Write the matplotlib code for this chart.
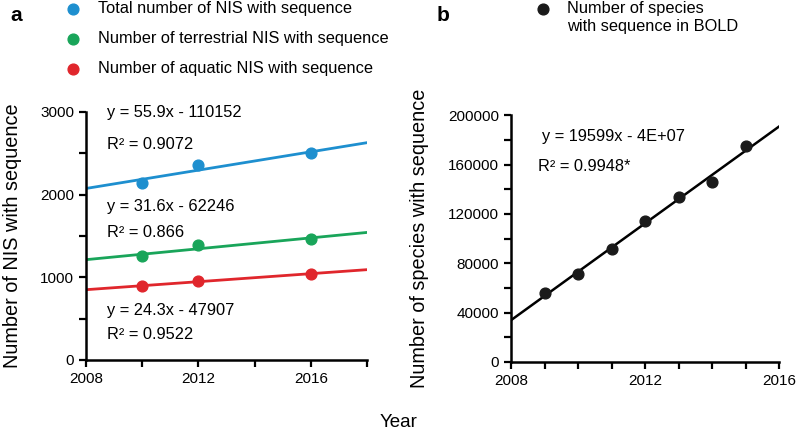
import numpy as np
import matplotlib
matplotlib.use('Agg')
import matplotlib.pyplot as plt

plt.rcParams['font.family'] = ['Liberation Sans', 'DejaVu Sans']

# panel a data
yearsA = [2010, 2012, 2016]
total = [2145, 2355, 2497]
terrestrial = [1252, 1385, 1463]
aquatic = [889, 961, 1039]
eqA = ['y = 55.9x - 110152', 'y = 31.6x - 62246', 'y = 24.3x - 47907']
r2A = ['R\u00b2 = 0.9072', 'R\u00b2 = 0.866', 'R\u00b2 = 0.9522']
labelsA = ['Total number of NIS with sequence',
           'Number of terrestrial NIS with sequence',
           'Number of aquatic NIS with sequence']

# panel b data
yearsB = [2009, 2010, 2011, 2012, 2013, 2014, 2015]
species = [55500, 70900, 91900, 114000, 133600, 145700, 174800]

colors = ['#1e8fcf', '#19a55a', '#e0262c']
fs = 11.8

fig = plt.figure(figsize=(7.96, 4.33), dpi=100)
ax1 = fig.add_axes([0.108, 0.1686, 0.353, 0.573])
ax2 = fig.add_axes([0.642, 0.164, 0.3367, 0.570])

def style(ax):
	for s in ['top', 'right']:
		ax.spines[s].set_visible(False)
	for s in ['left', 'bottom']:
		ax.spines[s].set_linewidth(1.8)
	ax.tick_params(which='both', direction='out', width=1.6, labelsize=11, length=5)

handles = []
xfit = np.array([2008, 2018])
for m, ys in enumerate([total, terrestrial, aquatic]):
	p = np.polyfit(yearsA, ys, 1)
	ax1.plot(xfit, np.polyval(p, xfit), color=colors[m], linewidth=2.0)
	h = ax1.scatter(yearsA, ys, s=60, color=colors[m], zorder=3, label=labelsA[m])
	handles.append(h)

eqY = [2994, 1855, 594]
r2Y = [2606, 1539, 303]
for m in range(3):
	ax1.text(2008.75, eqY[m], eqA[m], fontsize=fs, va='center')
	ax1.text(2008.75, r2Y[m], r2A[m], fontsize=fs, va='center')

ax1.set_xlim(2008, 2018)
ax1.set_ylim(0, 3000)
ax1.set_xticks([2008, 2012, 2016])
ax1.set_xticks([2010, 2014, 2018], minor=True)
ax1.set_yticks([0, 1000, 2000, 3000])
ax1.set_yticks([500, 1500, 2500], minor=True)
ax1.set_ylabel('Number of NIS with sequence', fontsize=14.3, labelpad=13)
style(ax1)
ax1.legend(handles=handles, loc='upper left', bbox_to_anchor=(0.0612, 1.017),
           bbox_transform=fig.transFigure, frameon=False, fontsize=fs,
           handletextpad=0.53, labelspacing=0.92, scatterpoints=1, borderpad=0)

xfitB = np.array([2008, 2016])
pB = np.polyfit(yearsB, species, 1)
ax2.plot(xfitB, np.polyval(pB, xfitB), color='black', linewidth=1.8)
hB = ax2.scatter(yearsB, species, s=60, color='#1a1a1a', zorder=3,
                 label='Number of species')
ax2.text(2008.93, 182600, 'y = 19599x - 4E+07', fontsize=fs, va='center')
ax2.text(2008.8, 158400, 'R\u00b2 = 0.9948*', fontsize=fs, va='center')
ax2.set_xlim(2008, 2016)
ax2.set_ylim(0, 200000)
ax2.set_xticks([2008, 2012, 2016])
ax2.set_xticks(range(2009, 2016), minor=True)
ax2.set_yticks(range(0, 200001, 40000))
ax2.set_yticks(range(20000, 200000, 40000), minor=True)
ax2.set_ylabel('Number of species with sequence', fontsize=14.3, labelpad=14)
style(ax2)
ax2.legend(handles=[hB], loc='upper left', bbox_to_anchor=(0.6517, 1.017),
           bbox_transform=fig.transFigure, frameon=False, fontsize=fs,
           handletextpad=0.47, scatterpoints=1, borderpad=0)
fig.text(567 / 796, 1 - 27 / 433, 'with sequence in BOLD', fontsize=fs, va='center')

fig.text(0.013, 0.965, 'a', fontsize=15, fontweight='bold', va='center')
fig.text(0.549, 0.965, 'b', fontsize=15, fontweight='bold', va='center')
fig.text(0.501, 0.025, 'Year', fontsize=13.5, ha='center', va='center')

fig.savefig('out.png', dpi=100)
